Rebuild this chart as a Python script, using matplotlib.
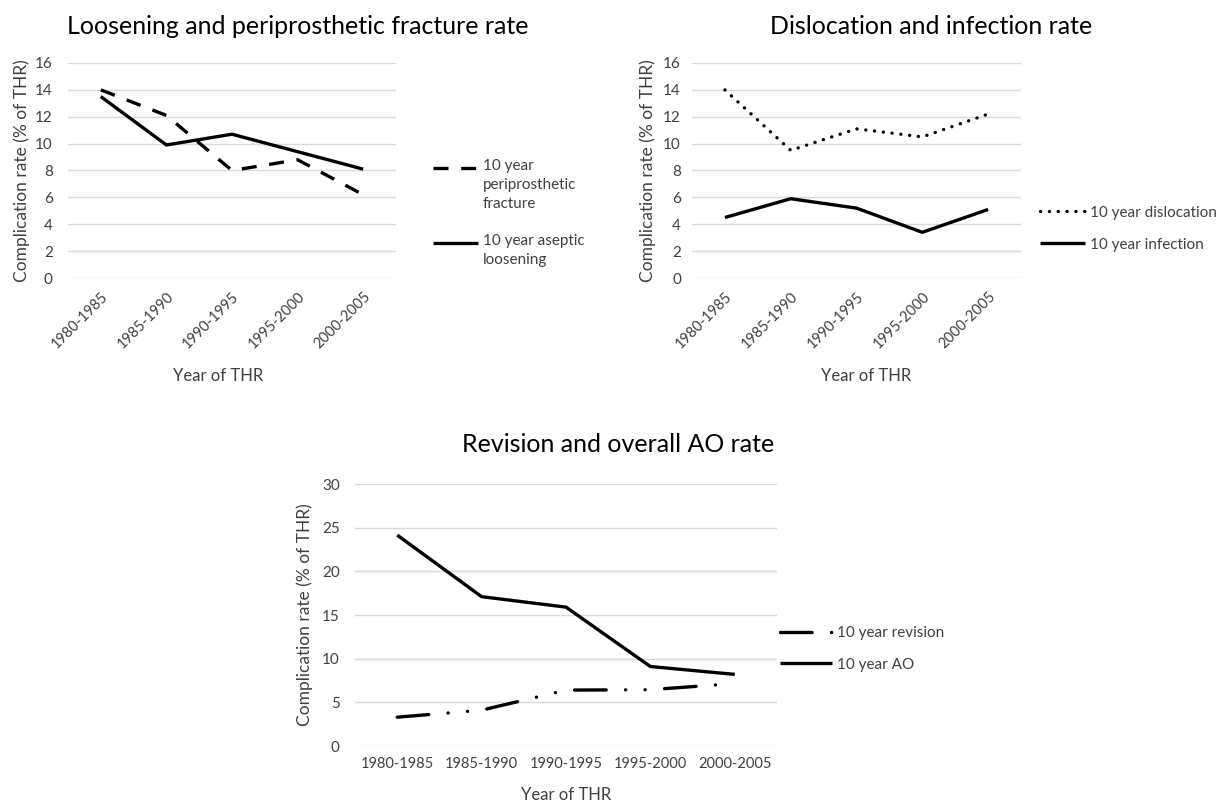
import matplotlib
matplotlib.use("Agg")
import matplotlib.pyplot as plt
from matplotlib.lines import Line2D

plt.rcParams['font.family'] = ['Lato', 'DejaVu Sans']

periods = ["1980-1985", "1985-1990", "1990-1995", "1995-2000", "2000-2005"]

fracture = [14.0, 12.1, 8.0, 8.8, 6.2]
loosening = [13.5, 9.9, 10.7, 9.4, 8.1]

dislocation = [14.0, 9.5, 11.1, 10.5, 12.2]
infection = [4.5, 5.9, 5.2, 3.4, 5.1]

revision = [3.3, 4.1, 6.4, 6.45, 7.15]
overall_ao = [24.15, 17.1, 15.9, 9.1, 8.2]

TEXT = "#404040"
GRID = "#d9d9d9"
LW = 2.4
W, H = 1231, 805

STYLES = {
    "dash": dict(linestyle=(0, (4.5, 3.8)), dash_capstyle="butt"),
    "dot": dict(linestyle=(0, (0.05, 2.6)), dash_capstyle="round"),
    "dashdot": dict(linestyle=(0, (9.5, 5.8, 0.05, 5.8, 0.05, 5.8)), dash_capstyle="round"),
    "solid": dict(linestyle="-", solid_capstyle="butt"),
}

fig = plt.figure(figsize=(W / 100, H / 100), dpi=100)


def px_axes(left, top, right, bottom):
    return fig.add_axes([left / W, 1 - bottom / H, (right - left) / W, (bottom - top) / H])


def setup_axes(ax, ymax, ystep, rotate, ylab_x, xlab_pos, ypad=11):
    ax.set_xlim(-0.5, len(periods) - 0.5)
    ax.set_ylim(0, ymax)
    ax.set_yticks(range(0, ymax + 1, ystep))
    ax.set_xticks(range(len(periods)))
    if rotate:
        ax.set_xticklabels(periods, rotation=45, ha="right", rotation_mode="anchor")
    else:
        ax.set_xticklabels(periods)
    for s in ax.spines.values():
        s.set_visible(False)
    ax.tick_params(length=0, labelsize=10.5, colors=TEXT, pad=8)
    ax.tick_params(axis="y", pad=ypad, labelsize=11)
    ax.grid(axis="y", color=GRID, linewidth=1)
    ax.set_axisbelow(True)
    ax.set_ylabel("Complication rate (% of THR)", fontsize=12.5, color=TEXT)
    ax.yaxis.set_label_coords(ylab_x, 0.5)
    ax.set_xlabel("Year of THR", fontsize=12, color=TEXT, va="top")
    ax.xaxis.set_label_coords(*xlab_pos)


def legend_entry(x0, x1, y, style, label):
    fy = 1 - y / H
    fig.add_artist(Line2D([x0 / W, x1 / W], [fy, fy], color="black", lw=LW,
                          transform=fig.transFigure, **STYLES[style]))
    if "\n" in label:
        fig.text((x1 + 5) / W, 1 - (y - 9) / H, label, fontsize=11, color=TEXT,
                 va="top", linespacing=1.45)
    else:
        fig.text((x1 + 5) / W, fy, label, fontsize=11, color=TEXT,
                 va="center_baseline")


# panel 1
ax1 = px_axes(68, 63, 396, 278)
ax1.plot(range(len(periods)), fracture, color="black", lw=LW, **STYLES["dash"])
ax1.plot(range(len(periods)), loosening, color="black", lw=LW, **STYLES["solid"])
setup_axes(ax1, 16, 2, True, -0.115, (0.457, -0.42))
fig.text(298 / W, 1 - 26 / H, "Loosening and periprosthetic fracture rate",
         fontsize=18, ha="center", va="center", color="black")
legend_entry(433, 478, 168, "dash", "10 year\nperiprosthetic\nfracture")
legend_entry(433, 478, 243, "solid", "10 year aseptic\nloosening")

# panel 2
ax2 = px_axes(692, 63, 1021, 278)
ax2.plot(range(len(periods)), dislocation, color="black", lw=LW, **STYLES["dot"])
ax2.plot(range(len(periods)), infection, color="black", lw=LW, **STYLES["solid"])
setup_axes(ax2, 16, 2, True, -0.11, (0.53, -0.42), ypad=8)
fig.text(931 / W, 1 - 26 / H, "Dislocation and infection rate",
         fontsize=18, ha="center", va="center", color="black")
legend_entry(1040, 1085, 211, "dot", "10 year dislocation")
legend_entry(1040, 1085, 243, "solid", "10 year infection")

# panel 3
ax3 = px_axes(355, 484, 777, 746)
ax3.plot(range(len(periods)), revision, color="black", lw=LW, **STYLES["dashdot"])
ax3.plot(range(len(periods)), overall_ao, color="black", lw=LW, **STYLES["solid"])
setup_axes(ax3, 30, 5, False, -0.10, (0.5, -0.155))
fig.text(618 / W, 1 - 444 / H, "Revision and overall AO rate",
         fontsize=18, ha="center", va="center", color="black")
legend_entry(780, 832, 632, "dashdot", "10 year revision")
legend_entry(780, 832, 663, "solid", "10 year AO")

fig.savefig("out.png", dpi=100)
